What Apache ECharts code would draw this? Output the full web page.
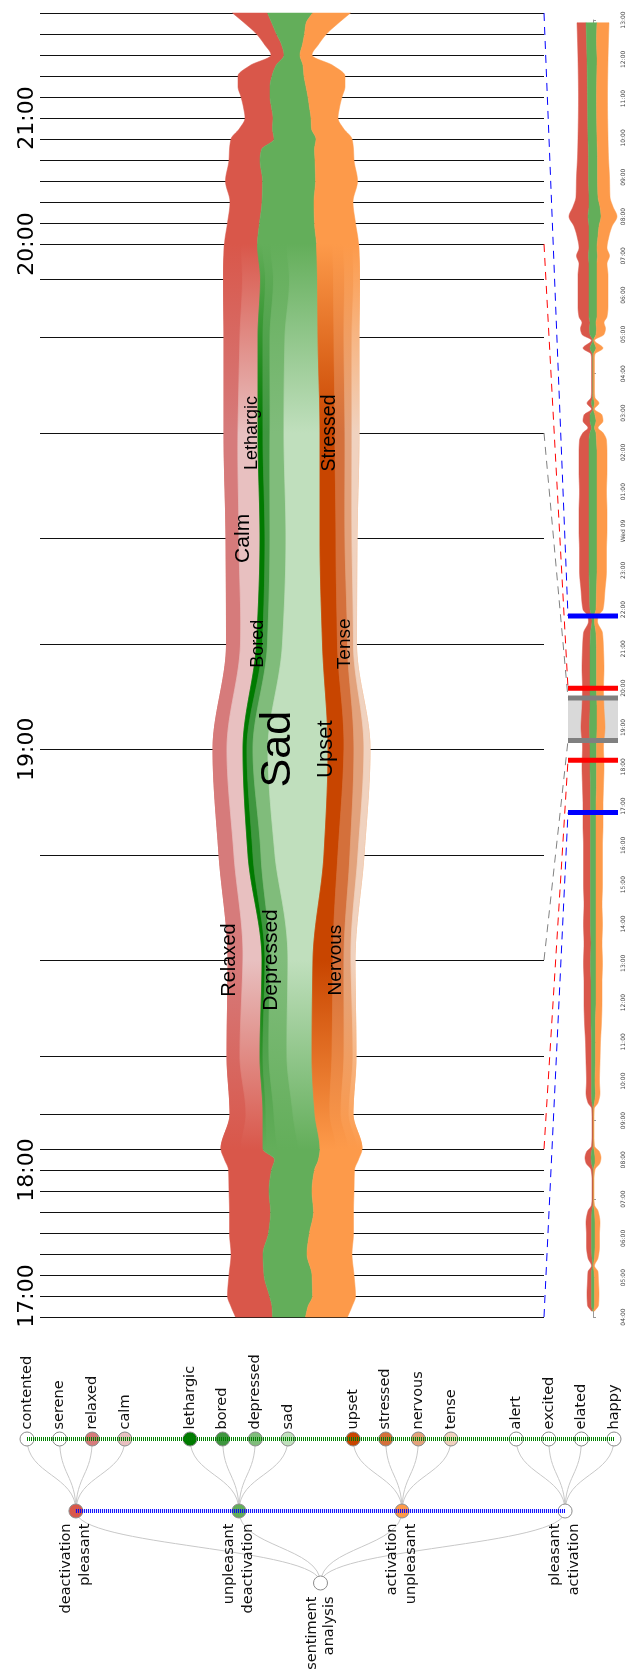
<!DOCTYPE html>
<html><head><meta charset="utf-8">
<script src="https://cdn.jsdelivr.net/npm/echarts@6/dist/echarts.min.js"></script>
<style>html,body{margin:0;padding:0;background:#fff;}#chart{width:627px;height:1679px;}</style>
</head><body><div id="chart"></div>
<script>
// ================= DATA =================
// focus view: 10-minute ticks and the lens magnification of each 10-minute slot
const TICK_TIMES = ['16:50','17:00','17:10','17:20','17:30','17:40','17:50','18:00','18:10','18:20','18:30','18:40','18:50','19:00','19:10','19:20','19:30','19:40','19:50','20:00','20:10','20:20','20:30','20:40','20:50','21:00','21:10','21:20','21:30','21:40','21:50'];
const LENS_ZOOM = [1,1,1,1,1,1,1,1, 1.67,2.76,4.57,5.02,5.02,5.02,5.02,5.02,4.57,2.76,1.67, 1,1,1,1,1,1,1,1,1,1,1];
const CORE_TIMES = ['18:40','19:30'];

// aggregated streams in the focus view
const MAIN_TIMES = ['16:50','16:55','17:00','17:10','17:20','17:30','17:40','17:50','18:00','18:05','18:10','18:20','18:30','18:40','18:50','19:00','19:10','19:20','19:30','19:40','19:50','20:00','20:10','20:20','20:30','20:40','20:45','20:50','20:55','21:00','21:05','21:10','21:15','21:20','21:25','21:30','21:35','21:40','21:45','21:50'];
const MAIN_PD = [37,41,42,35,32,39,41,40,43,50, 42,33,33,34,29,30,30,34,34,34, 37,33,32,32,37,31,32,43,33,28, 28,29,32,34,26,13,17,20,27,35];
const MAIN_UD = [33,36,43,48,44,41,43,43,43,44, 57,52,52,51,76,85,66,60,62,60, 57,59,55,52,53,55,53,42,39,38, 38,38,36,32,27,16,21,28,34,45];
const MAIN_UA = [42,44,43,42,45,44,40,42,40,40, 42,38,44,42,40,42,34,37,39,41, 42,42,41,39,42,39,39,36,32,27, 30,34,39,41,30,12,16,22,32,38];

// sub-categories inside the lens
const FOCUS_TIMES = ['18:10','18:20','18:30','18:40','18:50','19:00','19:10','19:20','19:30','19:40','19:50','20:00'];
const RELAXED   = [20,16,13,15,15,14,14,13,14,16,19,17];
const CALM      = [22,17,20,19,14,16,16,21,20,18,18,16];
const LETHARGIC = [4,3,3,3,5,4,6,5,5,5,5,5];
const BORED     = [10,8,6,5,8,6,5,5,7,7,8,8];
const DEPRESSED = [21,19,18,18,14,15,15,16,14,15,16,16];
const SAD       = [22,22,25,25,49,60,40,34,36,33,28,30];
const UPSET     = [16,15,20,20,14,16,15,16,15,16,16,16];
const STRESSED  = [12,11,12,11,12,10,10,9,10,10,11,11];
const NERVOUS   = [9,8,9,7,8,10,6,7,7,8,9,9];
const TENSE     = [5,4,3,4,6,6,3,5,7,7,6,6];
const SUB_NAMES = ['Relaxed','Calm','Lethargic','Bored','Depressed','Sad','Upset','Stressed','Nervous','Tense'];
const SUB_PARENT = [0,0,1,1,1,1,2,2,2,2];
// label anchors: time and value (offset from the stream centre line)
const SUB_LABEL_TIMES = ['18:40','19:20','19:30','19:10','18:40','19:00','19:00','19:30','18:40','19:10'];
const SUB_LABEL_VALUES = [-62.5,-48.5,-39.5,-33.5,-20.5,-13.5,34.5,38.5,44.5,53.5];

// overview (hours since Tue 00:00)
const OV_HOURS = [4.15,4.3,4.6,4.9,5.15,5.3,5.5,5.8,6.1,6.4,
 6.7,6.85,7.0,7.5,7.75,7.92,8.05,8.2,8.35,8.6,
 9.0,9.3,9.45,9.7,10.0,10.5,11.0,11.5,12.0,12.5,
 13.0,13.5,14.0,14.5,15.0,15.5,16.0,16.5,17.0,17.5,
 18.0,18.5,19.0,19.5,20.0,20.5,21.0,21.4,21.7,21.85,
 22.0,22.5,23.0,23.5,24.0,24.5,25.0,25.5,26.0,26.3,
 26.5,26.62,26.8,26.95,27.1,27.25,27.4,27.55,28.0,28.4,
 28.5,28.65,28.85,29.0,29.15,29.3,29.45,29.7,30.0,30.5,
 30.8,31.0,31.2,31.5,31.75,32.0,32.25,32.5,33.0,33.5,
 34.0,35.0,36.0,36.5,36.93];
const OV_PD = [1.2,4,4.5,4,3.5,1.2,4,5,5,5.5,
 4,1.5,1.2,1.2,2,5.5,6,5,1.5,1.2,
 1.2,1.3,4,5.5,5,5.5,6,6.5,7,7,
 7,7,7,6.5,7,7,7,7.5,7.5,8,
 8,7.5,8.5,8,7.5,8,7.5,7,3.5,4,
 7,8.5,9.5,9.5,10,10,9.5,10,10,9.5,
 7,3.5,7,6,1.5,4.5,1.5,1.3,1.3,1.3,
 1.5,7,1.3,8,9,8,10,11,11,11,
 10,12,10,12,15,19,16,13,12,11,
 10,9,9,9,9];
const OV_UD = [0.8,3,3,3,2.5,0.6,2.5,3.5,3.5,3.5,
 2.5,0.5,0.3,0.3,0.5,3.5,4,3,0.5,0.3,
 0.3,0.4,2.5,4,3.5,4,4,4.5,5,5,
 5.5,5,5.5,5.5,5.5,5.5,5.5,5.5,5.5,6,
 6.5,6.5,7.5,7,6.5,6.5,6.5,5.5,2.5,3,
 6,7,8,8,8,8,8,8,8,7.5,
 6,3,6,5,0.5,3,0.8,0.5,0.5,0.5,
 1,6,0.7,6,7,6,8,8,8,8,
 8,9,8,9,10,13,11,9,9,9,
 9,9,10,10,11];
const OV_UA = [1.0,4,4.5,4,4,1.2,3.5,4.5,4.5,5,
 3.5,1,0.5,0.5,1.5,5,6,5,1,0.5,
 0.5,0.8,3.5,4.5,4.5,4.5,5,6,6,6,
 6.5,6,6.5,6,6.5,6.5,6.5,7,7,7,
 7.5,7,8,7,7,7.5,7,6.5,3,4,
 7,8.5,9.5,9.5,10,10,9.5,10,10,10,
 7,3.5,7,7,1,4.5,1.5,1.2,1.2,1.2,
 1.5,7,1,8,9,8,10,11,11,11,
 10,12,10,11,13,16,13,12,12,11,
 11,11,11,12,12];
const OV_DAY_LABEL = 'Wed 09';

// lens markers: time in the focus view and in the overview
const MAIN_MARK_TIMES = ['21:50','20:00','19:30','18:40','18:10','16:50'];
const OV_MARK_TIMES   = ['21:50','20:00','19:45','18:40','18:10','16:50'];
const MARK_KIND       = ['view','edge','core','core','edge','view'];

// hierarchy
const TREE_ROOT = 'sentiment\nanalysis';
const TREE_GROUPS = ['deactivation\npleasant','unpleasant\ndeactivation','activation\nunpleasant','pleasant\nactivation'];
const TREE_LEAVES = ['contented','serene','relaxed','calm','lethargic','bored','depressed','sad','upset','stressed','nervous','tense','alert','excited','elated','happy'];

// ================= STYLE =================
const PARENT_COLORS = ['#d9574a','#63ae5a','#fd9a4a','#ffffff'];
const SUB_COLORS = ['#d67b7b','#e8c0c0','#007a00','#3f963f','#80bc7b','#c0dfbd','#c84500','#d4703b','#e2a27c','#f0d2bf'];
const LEAF_COLORS = ['#ffffff','#ffffff','#d67b7b','#e8c0c0','#007a00','#3f963f','#80bc7b','#c0dfbd','#c84500','#d4703b','#e2a27c','#f0d2bf','#ffffff','#ffffff','#ffffff','#ffffff'];
const SUB_LABEL_SIZE = [20,21,18,18,21,43,22,19.5,19,19];
const MARK_COLORS = {view:'#0000ff', edge:'#ff0000', core:'#808080'};
const MAIN_X = [-251.5, 252.5];
const OV_X = [-25, 25];

// ================= HELPERS =================
const SUBS = [RELAXED,CALM,LETHARGIC,BORED,DEPRESSED,SAD,UPSET,STRESSED,NERVOUS,TENSE];
const tmin = s => { const p = s.split(':').map(Number); return p[0]*60+p[1]; };
const T0 = tmin(TICK_TIMES[0]);
const LENS_CUM = [0]; LENS_ZOOM.forEach((z,i)=>LENS_CUM.push(LENS_CUM[i]+z));
const LENS_MAX = LENS_CUM[LENS_CUM.length-1];
function lens(s){ const u=(tmin(s)-T0)/10; const i=Math.max(0,Math.min(Math.floor(u),LENS_ZOOM.length-1)); return LENS_CUM[i]+(u-i)*LENS_ZOOM[i]; }
const ovHour = s => { const p = s.split(':').map(Number); return p[0]+p[1]/60; };

function monotone(ys, xs){
  const n=ys.length, d=[], m=new Array(n);
  for(let i=0;i<n-1;i++) d.push((xs[i+1]-xs[i])/(ys[i+1]-ys[i]));
  m[0]=d[0]; m[n-1]=d[n-2];
  for(let i=1;i<n-1;i++){
    if(d[i-1]*d[i]<=0) m[i]=0;
    else { const h0=ys[i]-ys[i-1], h1=ys[i+1]-ys[i], w1=2*h1+h0, w2=h1+2*h0; m[i]=(w1+w2)/(w1/d[i-1]+w2/d[i]); }
  }
  return y=>{
    if(y<=ys[0]) return xs[0];
    if(y>=ys[n-1]) return xs[n-1];
    let i=0; while(i<n-2 && y>ys[i+1]) i++;
    const h=ys[i+1]-ys[i], t=(y-ys[i])/h, t2=t*t, t3=t2*t;
    return (2*t3-3*t2+1)*xs[i]+(t3-2*t2+t)*h*m[i]+(-2*t3+3*t2)*xs[i+1]+(t3-t2)*h*m[i+1];
  };
}
function denseYs(a,b){ const r=[]; for(let y=a;y<b;y+=1) r.push(y); r.push(b); return r; }
function band(fa,fb,ys){ return ys.map(y=>[fa(y),y]).concat(ys.slice().reverse().map(y=>[fb(y),y])); }

function streamEdges(api, yVals, cols){
  const pts = yVals.map((v,i)=>{
    const tot = cols.reduce((s,c)=>s+c[i],0);
    let acc=-tot/2; const vals=[acc];
    cols.forEach(c=>{acc+=c[i]; vals.push(acc);});
    return {y: api.coord([0,yVals[i]])[1], xs: vals.map(v=>api.coord([v,yVals[i]])[0])};
  }).sort((a,b)=>a.y-b.y);
  const ky = pts.map(p=>p.y);
  const B = [];
  for(let j=0;j<=cols.length;j++) B.push(monotone(ky, pts.map(p=>p.xs[j])));
  return {B, yTop: ky[0], yBot: ky[ky.length-1]};
}

// ================= RENDERERS =================
function renderMain(params, api){
  const kids=[];
  for(const t of TICK_TIMES){
    const a=api.coord([MAIN_X[0],lens(t)]), b=api.coord([MAIN_X[1],lens(t)]);
    const y=Math.round(a[1])+0.5;
    kids.push({type:'line',shape:{x1:a[0],y1:y,x2:b[0],y2:y},style:{stroke:'#111',lineWidth:1}});
    if(t.endsWith(':00')) kids.push({type:'text',x:a[0]-13,y:a[1],rotation:Math.PI/2,
      style:{text:t,font:'22px "DejaVu Sans"',fill:'#000',align:'center',verticalAlign:'middle'}});
  }
  const S = streamEdges(api, MAIN_TIMES.map(lens), [MAIN_PD,MAIN_UD,MAIN_UA]);
  const B=S.B, ys=denseYs(S.yTop,S.yBot);
  for(let p=0;p<3;p++) kids.push({type:'polygon',shape:{points:band(B[p],B[p+1],ys)},style:{fill:PARENT_COLORS[p],stroke:PARENT_COLORS[p],lineWidth:0.5}});

  // sub streams inside the lens
  const fIdx = FOCUS_TIMES.map((t,i)=>i).sort((a,b)=>api.coord([0,lens(FOCUS_TIMES[a])])[1]-api.coord([0,lens(FOCUS_TIMES[b])])[1]);
  const fPix = fIdx.map(i=>api.coord([0,lens(FOCUS_TIMES[i])])[1]);
  const fys = denseYs(fPix[0], fPix[fPix.length-1]);
  const span = fPix[fPix.length-1]-fPix[0];
  const yc1 = api.coord([0,lens(CORE_TIMES[1])])[1], yc0 = api.coord([0,lens(CORE_TIMES[0])])[1];
  const o1=(yc1-fPix[0])/span, o2=(yc0-fPix[0])/span;
  const edges=[];
  for(let p=0;p<3;p++){
    const members = SUB_PARENT.map((q,i)=>q===p?i:-1).filter(i=>i>=0);
    const totals = fIdx.map(fi=>members.reduce((s,mi)=>s+SUBS[mi][fi],0));
    const cum = fIdx.map(()=>0);
    let prev = y=>B[p](y);
    members.forEach((si,m)=>{
      fIdx.forEach((fi,k)=>{cum[k]+=SUBS[si][fi];});
      let right;
      if(m===members.length-1) right = y=>B[p+1](y);
      else { const F = monotone(fPix, cum.map((c,k)=>c/totals[k])); right = y=>B[p](y)+F(y)*(B[p+1](y)-B[p](y)); }
      edges[si]=[prev,right]; prev=right;
    });
  }
  SUBS.forEach((s,si)=>{
    const pc=PARENT_COLORS[SUB_PARENT[si]], sc=SUB_COLORS[si];
    const grad = new echarts.graphic.LinearGradient(0,0,0,1,[{offset:0,color:pc},{offset:o1,color:sc},{offset:o2,color:sc},{offset:1,color:pc}]);
    kids.push({type:'polygon',shape:{points:band(edges[si][0],edges[si][1],fys)},style:{fill:grad,stroke:grad,lineWidth:0.5}});
  });
  SUBS.forEach((s,si)=>{
    const p=api.coord([SUB_LABEL_VALUES[si],lens(SUB_LABEL_TIMES[si])]);
    kids.push({type:'text',x:p[0],y:p[1],rotation:Math.PI/2,style:{text:SUB_NAMES[si],font:SUB_LABEL_SIZE[si]+'px "Liberation Sans"',fill:'#000',align:'center',verticalAlign:'middle'}});
  });
  return {type:'group',children:kids};
}

function renderOverview(params, api){
  const S = streamEdges(api, OV_HOURS, [OV_PD,OV_UD,OV_UA]);
  const ys=denseYs(S.yTop,S.yBot), kids=[];
  for(let p=0;p<3;p++) kids.push({type:'polygon',shape:{points:band(S.B[p],S.B[p+1],ys)},style:{fill:PARENT_COLORS[p],stroke:PARENT_COLORS[p],lineWidth:0.5}});
  return {type:'group',children:kids};
}
function renderCore(params, api){
  const a=api.coord([OV_X[0],api.value(1)]), b=api.coord([OV_X[1],api.value(0)]);
  return {type:'rect',shape:{x:a[0],y:a[1],width:b[0]-a[0],height:b[1]-a[1]},style:{fill:'#d9d9d9'}};
}
function renderMarks(params, api){
  const a=api.coord([OV_X[0],api.value(0)]), b=api.coord([OV_X[1],api.value(0)]);
  return {type:'rect',shape:{x:a[0],y:a[1]-2.5,width:b[0]-a[0],height:5},style:{fill:MARK_COLORS[MARK_KIND[params.dataIndex]]}};
}
function renderEdge(params, api){
  const p1=api.coord([api.value(0),api.value(1)]), p2=api.coord([api.value(2),api.value(3)]);
  const my=(p1[1]+p2[1])/2;
  return {type:'bezierCurve',shape:{x1:p1[0],y1:p1[1],x2:p2[0],y2:p2[1],cpx1:p1[0],cpy1:my,cpx2:p2[0],cpy2:my},style:{stroke:'#c8c8c8',fill:null,lineWidth:1}};
}

// ================= TREE LAYOUT =================
const leafSlot = i => Math.floor(i/4)*5 + (i%4);
const groupSlot = g => g*5 + 1.5;
const rootSlot = (groupSlot(0)+groupSlot(TREE_GROUPS.length-1))/2;
const treeEdges=[], treeNodes=[];
TREE_GROUPS.forEach((g,gi)=>{
  treeEdges.push([rootSlot,0,groupSlot(gi),1]);
  for(let k=0;k<4;k++) treeEdges.push([groupSlot(gi),1,leafSlot(gi*4+k),2]);
});
const LBL = {show:true,rotate:90,fontFamily:'DejaVu Sans',fontSize:14.5,color:'#111'};
TREE_LEAVES.forEach((n,i)=>treeNodes.push({value:[leafSlot(i),2],itemStyle:{color:LEAF_COLORS[i]},
  label:Object.assign({},LBL,{formatter:n,position:'top',align:'left',verticalAlign:'middle',distance:2})}));
TREE_GROUPS.forEach((n,i)=>treeNodes.push({value:[groupSlot(i),1],itemStyle:{color:PARENT_COLORS[i]},
  label:Object.assign({},LBL,{formatter:n,position:'bottom',align:'right',verticalAlign:'middle',distance:5,lineHeight:19})}));
treeNodes.push({value:[rootSlot,0],itemStyle:{color:'#ffffff'},
  label:Object.assign({},LBL,{formatter:TREE_ROOT,position:'bottom',align:'right',verticalAlign:'middle',distance:6,lineHeight:17})});

// ================= CHART =================
const chart = echarts.init(document.getElementById('chart'));
const option = {
  animation:false,
  grid:[
    {left:40, top:13, width:504, height:1304},
    {left:568, top:20, width:50, bottom:362},
    {left:27, top:1439, width:587, height:144}
  ],
  xAxis:[
    {gridIndex:0,type:'value',min:MAIN_X[0],max:MAIN_X[1],show:false},
    {gridIndex:1,type:'value',min:OV_X[0],max:OV_X[1],show:false},
    {gridIndex:2,type:'value',min:0,max:18,show:false}
  ],
  yAxis:[
    {gridIndex:0,type:'value',min:0,max:LENS_MAX,show:false},
    {gridIndex:1,type:'value',min:4,max:37,interval:1,position:'right',
     axisLine:{show:true,lineStyle:{color:'#999'}},axisTick:{show:true,length:3,lineStyle:{color:'#999'}},splitLine:{show:false},
     axisLabel:{rotate:90,fontSize:6,fontFamily:'DejaVu Sans',color:'#444',margin:2,
       formatter:v=>v===24?OV_DAY_LABEL:((v%24)<10?'0':'')+(v%24)+':00'}},
    {gridIndex:2,type:'value',min:0,max:2,show:false}
  ],
  series:[
    {type:'custom',xAxisIndex:0,yAxisIndex:0,data:[[0,0]],renderItem:renderMain,silent:true,z:2},
    {type:'custom',xAxisIndex:1,yAxisIndex:1,data:[[ovHour(OV_MARK_TIMES[3]),ovHour(OV_MARK_TIMES[2])]],renderItem:renderCore,silent:true,z:1},
    {type:'custom',xAxisIndex:1,yAxisIndex:1,data:[[0,0]],renderItem:renderOverview,silent:true,z:2},
    {type:'custom',xAxisIndex:1,yAxisIndex:1,data:OV_MARK_TIMES.map(t=>[ovHour(t)]),renderItem:renderMarks,silent:true,z:3},
    {type:'custom',xAxisIndex:2,yAxisIndex:2,data:treeEdges,renderItem:renderEdge,silent:true,z:1},
    {type:'scatter',xAxisIndex:2,yAxisIndex:2,data:treeNodes,symbol:'circle',symbolSize:14,
     itemStyle:{borderColor:'#8c8c8c',borderWidth:1,opacity:1},silent:true,z:2},
    {type:'line',xAxisIndex:2,yAxisIndex:2,data:[[leafSlot(0),2],[leafSlot(TREE_LEAVES.length-1),2]],symbol:'none',clip:false,
     lineStyle:{color:'#008000',width:4,type:[1,1]},silent:true,z:3},
    {type:'line',xAxisIndex:2,yAxisIndex:2,data:[[groupSlot(0),1],[groupSlot(TREE_GROUPS.length-1),1]],symbol:'none',clip:false,
     lineStyle:{color:'#0000ff',width:4,type:[1,1]},silent:true,z:3}
  ]
};
chart.setOption(option);
const conn = MAIN_MARK_TIMES.map((t,i)=>{
  const a = chart.convertToPixel({gridIndex:0},[MAIN_X[1],lens(t)]);
  const b = chart.convertToPixel({gridIndex:1},[OV_X[0],ovHour(OV_MARK_TIMES[i])]);
  return {type:'line',silent:true,z:5,shape:{x1:a[0],y1:a[1],x2:b[0],y2:b[1]},
    style:{stroke:MARK_COLORS[MARK_KIND[i]],lineWidth:1,lineDash:[8,6]}};
});
chart.setOption({graphic:conn});
</script></body></html>
